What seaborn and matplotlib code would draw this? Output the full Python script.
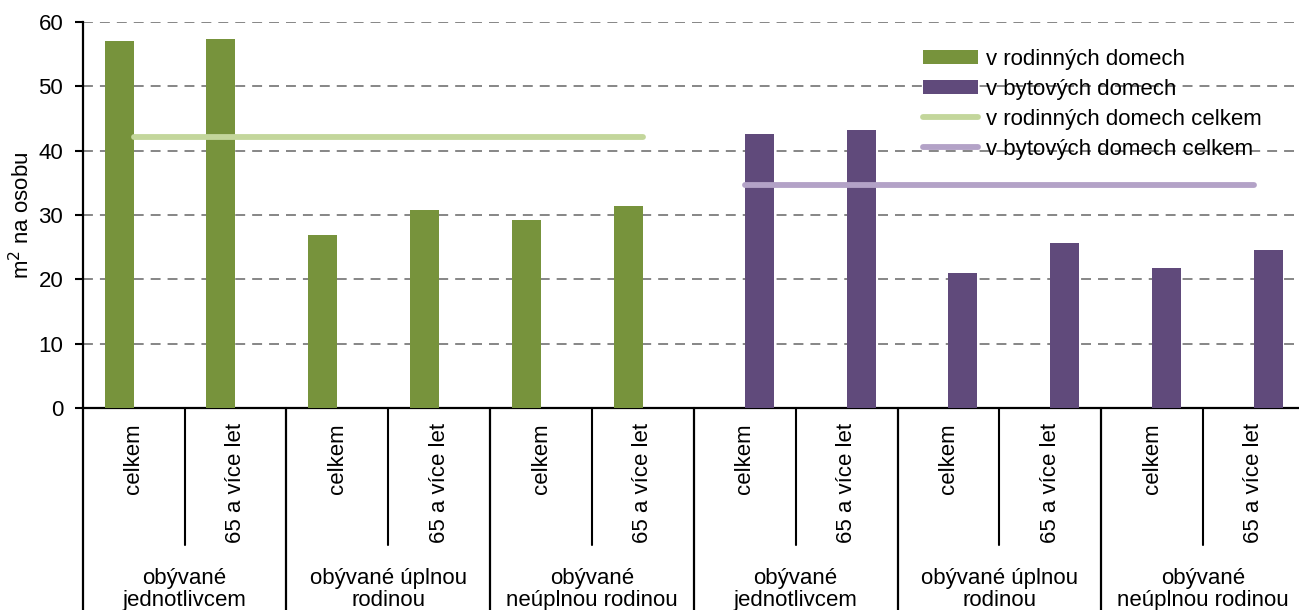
import numpy as np
import pandas as pd
import seaborn as sns
import matplotlib.pyplot as plt

# Data
kategorie = ["k%d" % i for i in range(12)]
podskupiny = ["celkem", "65 a více let"] * 6
skupiny = ["obývané\njednotlivcem", "obývané úplnou\nrodinou", "obývané\nneúplnou rodinou",
           "obývané\njednotlivcem", "obývané úplnou\nrodinou", "obývané\nneúplnou rodinou"]
typ_domu = ["v rodinných domech"] * 6 + ["v bytových domech"] * 6
plocha = [57.0, 57.3, 26.9, 30.8, 29.2, 31.4,
          42.6, 43.2, 21.0, 25.6, 21.7, 24.6]
rodinne_celkem = [42.1, 42.1, 42.1, 42.1, 42.1, 42.1]
bytove_celkem = [34.6, 34.6, 34.6, 34.6, 34.6, 34.6]
yticks = [0, 10, 20, 30, 40, 50, 60]

df = pd.DataFrame({"kat": kategorie, "plocha": plocha, "typ": typ_domu})

sns.set_style("white")
plt.rcParams["font.family"] = ["Liberation Sans", "DejaVu Sans"]
plt.rcParams["text.color"] = "black"
plt.rcParams["ytick.labelcolor"] = "black"

zelena = "#77933C"
fialova = "#604A7B"
sv_zelena = "#C3D69B"
sv_fialova = "#B3A2C7"
fs = 16

fig = plt.figure(figsize=(12.99, 6.10), dpi=100)
ax = fig.add_axes([82.7 / 1299, 1 - 408.3 / 610, (1304.9 - 82.7) / 1299, (408.3 - 21.7) / 610])

sns.barplot(data=df, x="kat", y="plocha", hue="typ", order=kategorie,
            hue_order=["v rodinných domech", "v bytových domech"],
            palette=[zelena, fialova], width=0.57, dodge=True,
            saturation=1, ax=ax, zorder=3, linewidth=0)

# průměrné linie
ax.plot(range(0, 6), rodinne_celkem, color=sv_zelena, lw=4.2,
        solid_capstyle="round", zorder=4, label="v rodinných domech celkem")
ax.plot(range(6, 12), bytove_celkem, color=sv_fialova, lw=4.2,
        solid_capstyle="round", zorder=4, label="v bytových domech celkem")

ax.set_xlim(-0.5, 11.5)
ax.set_ylim(0, 60)
ax.set_yticks(yticks)
ax.yaxis.grid(True, color="#868686", lw=1.4, ls=(0, (5.1, 3.6)), zorder=0)
ax.tick_params(axis="y", labelsize=fs, length=6, width=1.5, color="black",
               pad=8, direction="out", left=True)
ax.tick_params(axis="x", length=0, labelbottom=False)
ax.set_xlabel("")
ax.set_ylabel("")
for s in ["top", "right"]:
    ax.spines[s].set_visible(False)
for s in ["left", "bottom"]:
    ax.spines[s].set_color("black")
    ax.spines[s].set_linewidth(1.6)

fig.text(21.7 / 1299, 1 - 215 / 610, "m$^2$ na osobu", rotation=90,
         ha="center", va="center", fontsize=fs)

# víceúrovňová osa x
tr = ax.get_xaxis_transform()
vys = 386.6
for i in range(12):
    ax.text(i, -(423 - 408.3) / vys, podskupiny[i], rotation=90, ha="center",
            va="top", fontsize=fs, transform=tr, clip_on=False)
for i in range(6):
    ax.text(2 * i + 0.5, -(589.5 - 408.3) / vys, skupiny[i], ha="center",
            va="center", fontsize=fs, linespacing=1.1, transform=tr, clip_on=False)
for i in range(6):
    ax.plot([2 * i + 0.5, 2 * i + 0.5], [0, -(545 - 408.3) / vys], color="black",
            lw=1.5, transform=tr, clip_on=False)
for i in range(7):
    ax.plot([2 * i - 0.5, 2 * i - 0.5], [0, -0.6], color="black",
            lw=1.6, transform=tr, clip_on=False)

# legenda
handles, labels = ax.get_legend_handles_labels()
ax.legend(handles, labels, loc="upper left",
          bbox_to_anchor=(922.7 / 1299, 1 - 49 / 610), bbox_transform=fig.transFigure,
          frameon=False, fontsize=fs, handlelength=2.5, handleheight=0.63,
          handletextpad=0.35, labelspacing=0.4, borderpad=0, borderaxespad=0)

fig.savefig("out.png", dpi=100)
